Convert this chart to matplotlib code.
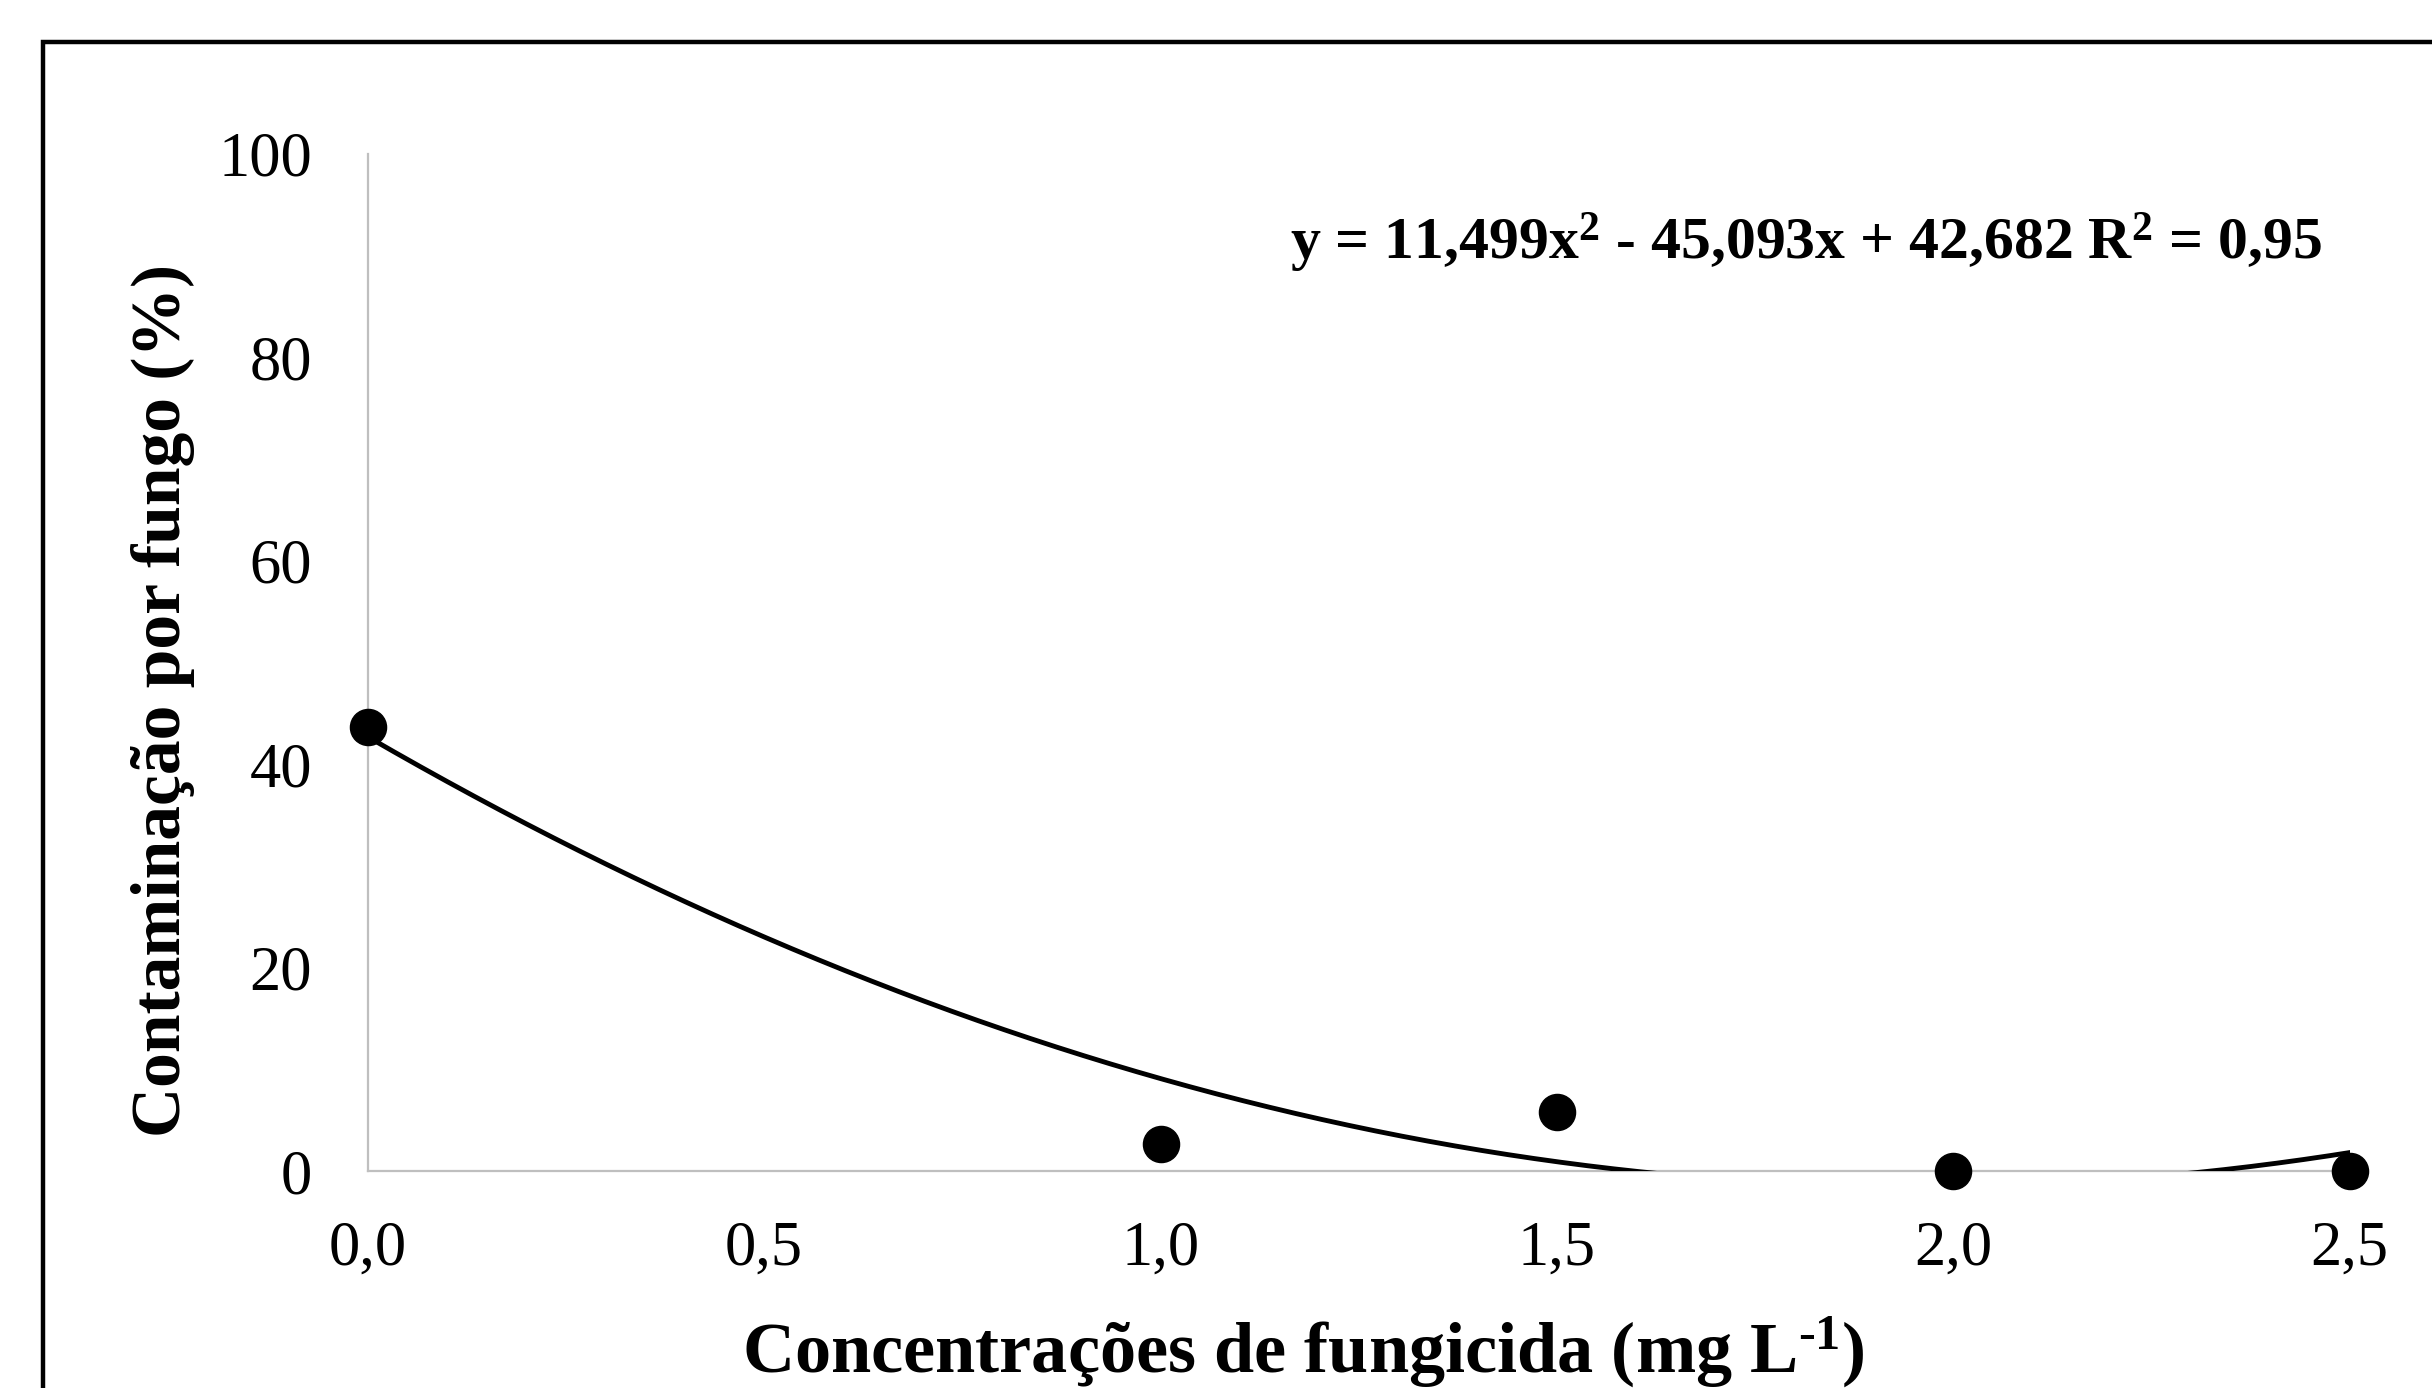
import numpy as np
import matplotlib.pyplot as plt
from matplotlib.patches import Rectangle

# dados
concentracao = [0.0, 1.0, 1.5, 2.0, 2.5]
contaminacao = [43.6, 2.7, 5.8, 0.0, 0.0]
coef = [11.499, -45.093, 42.682]   # y = a x^2 + b x + c
xticks = [0.0, 0.5, 1.0, 1.5, 2.0, 2.5]
xticklabels = ['0,0', '0,5', '1,0', '1,5', '2,0', '2,5']
yticks = [0, 20, 40, 60, 80, 100]
yticklabels = ['0', '20', '40', '60', '80', '100']
equacao = r'y = 11,499x$^{2}$ - 45,093x + 42,682 R$^{2}$ = 0,95'

plt.rcParams['font.family'] = ['Liberation Serif', 'DejaVu Serif']
plt.rcParams['mathtext.fontset'] = 'custom'
plt.rcParams['mathtext.rm'] = 'Liberation Serif:bold'
plt.rcParams['mathtext.bf'] = 'Liberation Serif:bold'
plt.rcParams['mathtext.default'] = 'rm'

fig = plt.figure(figsize=(24.32, 13.88), dpi=100)
ax = fig.add_axes([0.1512, 0.1563, 0.8150, 0.7331])

xs = np.linspace(0, 2.5, 300)
ax.plot(xs, np.polyval(coef, xs), color='black', lw=3.5, zorder=3)
ax.plot(concentracao, contaminacao, 'o', color='black', ms=26, zorder=4, clip_on=False)

ax.set_xlim(0, 2.5)
ax.set_ylim(0, 100)
ax.set_xticks(xticks)
ax.set_xticklabels(xticklabels)
ax.set_yticks(yticks)
ax.set_yticklabels(yticklabels)
ax.tick_params(length=0, labelsize=45)
ax.tick_params(axis='x', pad=36)
ax.tick_params(axis='y', pad=40)
for s in ['top', 'right']:
    ax.spines[s].set_visible(False)
for s in ['left', 'bottom']:
    ax.spines[s].set_color('#bfbfbf')
    ax.spines[s].set_linewidth(1.6)

# equacao da linha de tendencia
ax.text(0.7255, 0.912, equacao, transform=ax.transAxes, fontsize=43,
        fontweight='bold', ha='center', va='center')

fig.text(0.067, 0.495, 'Contaminação por fungo (%)', rotation=90, fontsize=50,
         fontweight='bold', ha='center', va='center')
fig.text(0.536, 0.026, r'Concentrações de fungicida (mg L$^{\text{-1}}$)', fontsize=52,
         fontweight='bold', ha='center', va='center')

fig.patches.append(Rectangle((0.0177, -0.1), 1.1, 0.1 + 0.9697, transform=fig.transFigure,
                             fill=False, edgecolor='black', lw=3.2))

fig.savefig('out.png', dpi=100)
